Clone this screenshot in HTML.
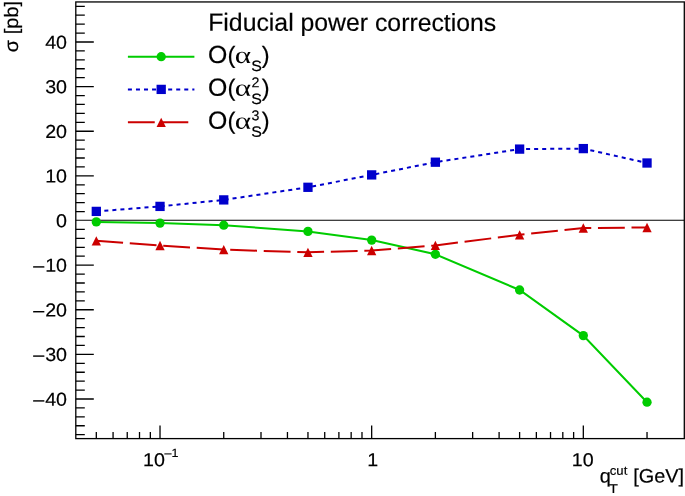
<!DOCTYPE html>
<html><head><meta charset="utf-8"><title>Fiducial power corrections</title>
<style>html,body{margin:0;padding:0;background:#fff}svg{display:block}</style></head>
<body>
<svg width="685" height="496" viewBox="0 0 685 496">
<rect width="685" height="496" fill="#fff"/>
<g stroke="#000" stroke-width="1.3" fill="none" stroke-linecap="butt">
<rect x="75.8" y="1.95" width="608.50" height="436.65"/>
<line x1="75.8" y1="220.25" x2="684.3" y2="220.25" stroke-width="1.15"/>
<path d="M75.8 434.70h9M75.8 425.77h9M75.8 416.85h9M75.8 407.93h9M75.8 399.00h18M75.8 390.08h9M75.8 381.15h9M75.8 372.23h9M75.8 363.30h9M75.8 354.38h18M75.8 345.45h9M75.8 336.52h9M75.8 327.60h9M75.8 318.68h9M75.8 309.75h18M75.8 300.82h9M75.8 291.90h9M75.8 282.98h9M75.8 274.05h9M75.8 265.12h18M75.8 256.20h9M75.8 247.28h9M75.8 238.35h9M75.8 229.43h9M75.8 211.57h9M75.8 202.65h9M75.8 193.72h9M75.8 184.80h9M75.8 175.88h18M75.8 166.95h9M75.8 158.02h9M75.8 149.10h9M75.8 140.18h9M75.8 131.25h18M75.8 122.32h9M75.8 113.40h9M75.8 104.47h9M75.8 95.55h9M75.8 86.62h18M75.8 77.70h9M75.8 68.77h9M75.8 59.85h9M75.8 50.92h9M75.8 42.00h18M75.8 33.07h9M75.8 24.15h9M75.8 15.22h9M75.8 6.30h9M96.31 438.6v-6.5M113.07 438.6v-6.5M127.24 438.6v-6.5M139.51 438.6v-6.5M150.34 438.6v-6.5M160.02 438.6v-13M223.74 438.6v-6.5M261.00 438.6v-6.5M287.45 438.6v-6.5M307.96 438.6v-6.5M324.72 438.6v-6.5M338.89 438.6v-6.5M351.16 438.6v-6.5M361.99 438.6v-6.5M371.67 438.6v-13M435.38 438.6v-6.5M472.65 438.6v-6.5M499.10 438.6v-6.5M519.61 438.6v-6.5M536.36 438.6v-6.5M550.53 438.6v-6.5M562.81 438.6v-6.5M573.63 438.6v-6.5M583.32 438.6v-13M647.03 438.6v-6.5"/>
</g>
<polyline points="96.31,221.90 160.02,223.10 223.74,225.20 307.96,231.40 371.67,240.10 435.38,254.30 519.61,290.00 583.32,335.60 647.03,402.20" fill="none" stroke="#00cc00" stroke-width="2"/>
<circle cx="96.31" cy="221.90" r="4.65" fill="#00cc00"/>
<circle cx="160.02" cy="223.10" r="4.65" fill="#00cc00"/>
<circle cx="223.74" cy="225.20" r="4.65" fill="#00cc00"/>
<circle cx="307.96" cy="231.40" r="4.65" fill="#00cc00"/>
<circle cx="371.67" cy="240.10" r="4.65" fill="#00cc00"/>
<circle cx="435.38" cy="254.30" r="4.65" fill="#00cc00"/>
<circle cx="519.61" cy="290.00" r="4.65" fill="#00cc00"/>
<circle cx="583.32" cy="335.60" r="4.65" fill="#00cc00"/>
<circle cx="647.03" cy="402.20" r="4.65" fill="#00cc00"/>
<polyline points="96.31,211.40 160.02,206.40 223.74,199.90 307.96,187.30 371.67,174.90 435.38,162.20 519.61,149.10 583.32,148.60 647.03,163.00" fill="none" stroke="#0000cc" stroke-width="2" stroke-dasharray="4.025 4.025"/>
<rect x="91.66" y="206.75" width="9.3" height="9.3" fill="#0000cc"/>
<rect x="155.37" y="201.75" width="9.3" height="9.3" fill="#0000cc"/>
<rect x="219.09" y="195.25" width="9.3" height="9.3" fill="#0000cc"/>
<rect x="303.31" y="182.65" width="9.3" height="9.3" fill="#0000cc"/>
<rect x="367.02" y="170.25" width="9.3" height="9.3" fill="#0000cc"/>
<rect x="430.73" y="157.55" width="9.3" height="9.3" fill="#0000cc"/>
<rect x="514.96" y="144.45" width="9.3" height="9.3" fill="#0000cc"/>
<rect x="578.67" y="143.95" width="9.3" height="9.3" fill="#0000cc"/>
<rect x="642.38" y="158.35" width="9.3" height="9.3" fill="#0000cc"/>
<polyline points="96.31,240.80 160.02,245.50 223.74,249.60 307.96,252.30 371.67,250.50 435.38,245.40 519.61,234.80 583.32,228.00 647.03,227.50" fill="none" stroke="#cc0000" stroke-width="2" stroke-dasharray="26.84 6.71"/>
<path d="M91.66 245.45h9.3L96.31 236.15z" fill="#cc0000"/>
<path d="M155.37 250.15h9.3L160.02 240.85z" fill="#cc0000"/>
<path d="M219.09 254.25h9.3L223.74 244.95z" fill="#cc0000"/>
<path d="M303.31 256.95h9.3L307.96 247.65z" fill="#cc0000"/>
<path d="M367.02 255.15h9.3L371.67 245.85z" fill="#cc0000"/>
<path d="M430.73 250.05h9.3L435.38 240.75z" fill="#cc0000"/>
<path d="M514.96 239.45h9.3L519.61 230.15z" fill="#cc0000"/>
<path d="M578.67 232.65h9.3L583.32 223.35z" fill="#cc0000"/>
<path d="M642.38 232.15h9.3L647.03 222.85z" fill="#cc0000"/>
<line x1="127.9" y1="56.7" x2="194.4" y2="56.7" stroke="#00cc00" stroke-width="2"/>
<circle cx="161.2" cy="56.7" r="4.65" fill="#00cc00"/>
<line x1="127.9" y1="89.4" x2="194.4" y2="89.4" stroke="#0000cc" stroke-width="2" stroke-dasharray="4.025 4.025"/>
<rect x="156.55" y="84.75" width="9.3" height="9.3" fill="#0000cc"/>
<line x1="127.9" y1="122.3" x2="194.4" y2="122.3" stroke="#cc0000" stroke-width="2" stroke-dasharray="26.84 6.71"/>
<path d="M156.55 126.95h9.3L161.20 117.65z" fill="#cc0000"/>
<g font-family="'Liberation Sans', sans-serif" fill="#000" stroke="#000" stroke-width="0.18" text-rendering="geometricPrecision">
<text transform="translate(67.00,405.75) rotate(0.03) scale(1.04,1)" font-size="18.9" text-anchor="end">–<tspan dx="0.9">40</tspan></text>
<text transform="translate(67.00,361.12) rotate(0.03) scale(1.04,1)" font-size="18.9" text-anchor="end">–<tspan dx="0.9">30</tspan></text>
<text transform="translate(67.00,316.50) rotate(0.03) scale(1.04,1)" font-size="18.9" text-anchor="end">–<tspan dx="0.9">20</tspan></text>
<text transform="translate(67.00,271.88) rotate(0.03) scale(1.04,1)" font-size="18.9" text-anchor="end">–<tspan dx="0.9">10</tspan></text>
<text transform="translate(67.00,227.25) rotate(0.03) scale(1.04,1)" font-size="18.9" text-anchor="end">0</text>
<text transform="translate(67.00,182.62) rotate(0.03) scale(1.04,1)" font-size="18.9" text-anchor="end">10</text>
<text transform="translate(67.00,138.00) rotate(0.03) scale(1.04,1)" font-size="18.9" text-anchor="end">20</text>
<text transform="translate(67.00,93.38) rotate(0.03) scale(1.04,1)" font-size="18.9" text-anchor="end">30</text>
<text transform="translate(67.00,48.75) rotate(0.03) scale(1.04,1)" font-size="18.9" text-anchor="end">40</text>
<text transform="translate(372.67,466.30) rotate(0.03) scale(1.04,1)" font-size="18.9" text-anchor="middle">1</text>
<text transform="translate(582.62,466.30) rotate(0.03) scale(1.04,1)" font-size="18.9" text-anchor="middle">10</text>
<text transform="translate(143.00,466.30) rotate(0.03) scale(1.04,1)" font-size="18.9">10</text>
<text transform="translate(164.50,456.90) rotate(0.03) scale(1.04,1)" font-size="12">–1</text>
<text transform="translate(599.70,482.40) rotate(0.03) scale(1.025,1)" font-size="19.4">q</text>
<text transform="translate(609.80,474.80) rotate(0.03) scale(1.06,1)" font-size="12.4">cut</text>
<text transform="translate(608.90,492.90) rotate(0.03) scale(1.15,1)" font-size="12.6">T</text>
<text transform="translate(633.20,482.40) rotate(0.03) scale(1.025,1)" font-size="19.4">[GeV]</text>
<text transform="translate(18.10,1.00) rotate(-89.97) scale(1.025,1)" font-size="19.4" text-anchor="end">[pb]</text>
<text transform="translate(18.10,40.00) rotate(-89.97) scale(1.025,1)" font-size="19.4" text-anchor="end">σ</text>
<text transform="translate(208.20,30.80) rotate(0.03)" font-size="24.8">Fiducial power corrections</text>
<text transform="translate(208.00,62.95) rotate(0.03)" font-size="24.8">O</text>
<text transform="translate(227.40,62.95) rotate(0.03)" font-size="23.6">(</text>
<text transform="translate(234.80,62.95) rotate(0.03) scale(1.3,1)" font-size="24" stroke="none" font-family="'Liberation Serif', serif">α</text>
<text transform="translate(251.30,71.05) rotate(0.03) scale(1.07,1)" font-size="14.9">S</text>
<text transform="translate(261.70,62.95) rotate(0.03)" font-size="23.6">)</text>
<text transform="translate(208.00,95.80) rotate(0.03)" font-size="24.8">O</text>
<text transform="translate(227.40,95.80) rotate(0.03)" font-size="23.6">(</text>
<text transform="translate(234.80,95.80) rotate(0.03) scale(1.3,1)" font-size="24" stroke="none" font-family="'Liberation Serif', serif">α</text>
<text transform="translate(251.30,103.90) rotate(0.03) scale(1.07,1)" font-size="14.9">S</text>
<text transform="translate(251.50,87.35) rotate(0.03)" font-size="14.2">2</text>
<text transform="translate(261.70,95.80) rotate(0.03)" font-size="23.6">)</text>
<text transform="translate(208.00,128.65) rotate(0.03)" font-size="24.8">O</text>
<text transform="translate(227.40,128.65) rotate(0.03)" font-size="23.6">(</text>
<text transform="translate(234.80,128.65) rotate(0.03) scale(1.3,1)" font-size="24" stroke="none" font-family="'Liberation Serif', serif">α</text>
<text transform="translate(251.30,136.75) rotate(0.03) scale(1.07,1)" font-size="14.9">S</text>
<text transform="translate(251.50,120.20) rotate(0.03)" font-size="14.2">3</text>
<text transform="translate(261.70,128.65) rotate(0.03)" font-size="23.6">)</text>
</g>
</svg>
</body></html>
